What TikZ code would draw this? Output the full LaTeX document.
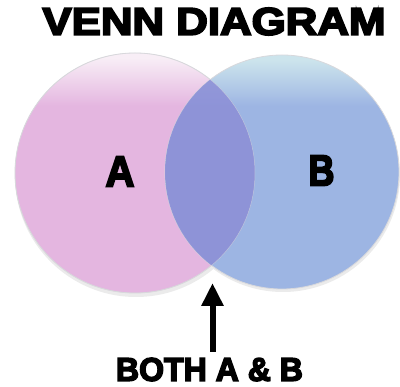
\documentclass[tikz,border=0pt]{standalone}
\usepackage{fontspec}
\usetikzlibrary{arrows.meta}
\newfontfamily\heavy{Liberation Sans Bold}[FakeBold=4.5]
\definecolor{pinkB}{HTML}{E4B6E0}
\definecolor{pinkT}{HTML}{F8EEF6}
\definecolor{blueB}{HTML}{9DB5E3}
\definecolor{blueT}{HTML}{CCE4EC}
\definecolor{overlapC}{HTML}{8C8ED6}
\definecolor{rimC}{HTML}{D8D8DC}
\pgfdeclareverticalshading{pinkshade}{100bp}{color(0bp)=(pinkB); color(25bp)=(pinkB); color(64bp)=(pinkB); color(74bp)=(pinkT); color(100bp)=(pinkT)}
\pgfdeclareverticalshading{blueshade}{100bp}{color(0bp)=(blueB); color(25bp)=(blueB); color(64bp)=(blueB); color(74bp)=(blueT); color(100bp)=(blueT)}
\tikzset{
  setA/.style={draw=rimC, line width=0.8pt, shading=pinkshade},
  setB/.style={draw=rimC, line width=0.8pt, shading=blueshade},
  bigtext/.style={inner sep=0pt, text=black, font=\heavy},
  pointer/.style={line width=6pt, -{Triangle[length=23pt,width=21pt]}, black}
}
\begin{document}
\begin{tikzpicture}[x=1pt, y=-1pt]
  \useasboundingbox (0,0) rectangle (400,387);
  % soft shadows
  \fill[black!8] (136,176) circle[radius=121];
  \fill[black!8] (283,175) circle[radius=117];
  % circles
  \shade[setA] (135,173) circle[radius=120];
  \shade[setB] (282,172) circle[radius=117];
  \begin{scope}
    \clip (135,173) circle[radius=120];
    \fill[overlapC, opacity=0.85] (282,172) circle[radius=117];
  \end{scope}
  \draw[rimC, line width=0.5pt, opacity=0.6] (135,173) circle[radius=120];
  % texts
  \node[bigtext] (title) at (214,21.5) {\resizebox{343pt}{27pt}{VENN DIAGRAM}};
  \node[bigtext] (a) at (120,171.5) {\resizebox{29pt}{30pt}{A}};
  \node[bigtext] (b) at (321.5,170.5) {\resizebox{26pt}{30pt}{B}};
  \node[bigtext] (both) at (209.5,369.5) {\resizebox{187pt}{23pt}{BOTH A \& B}};
  % arrow
  \coordinate (tail) at (212.5,352);
  \coordinate (tip) at (212.5,283);
  \draw[pointer] (tail) -- (tip);
\end{tikzpicture}
\end{document}
